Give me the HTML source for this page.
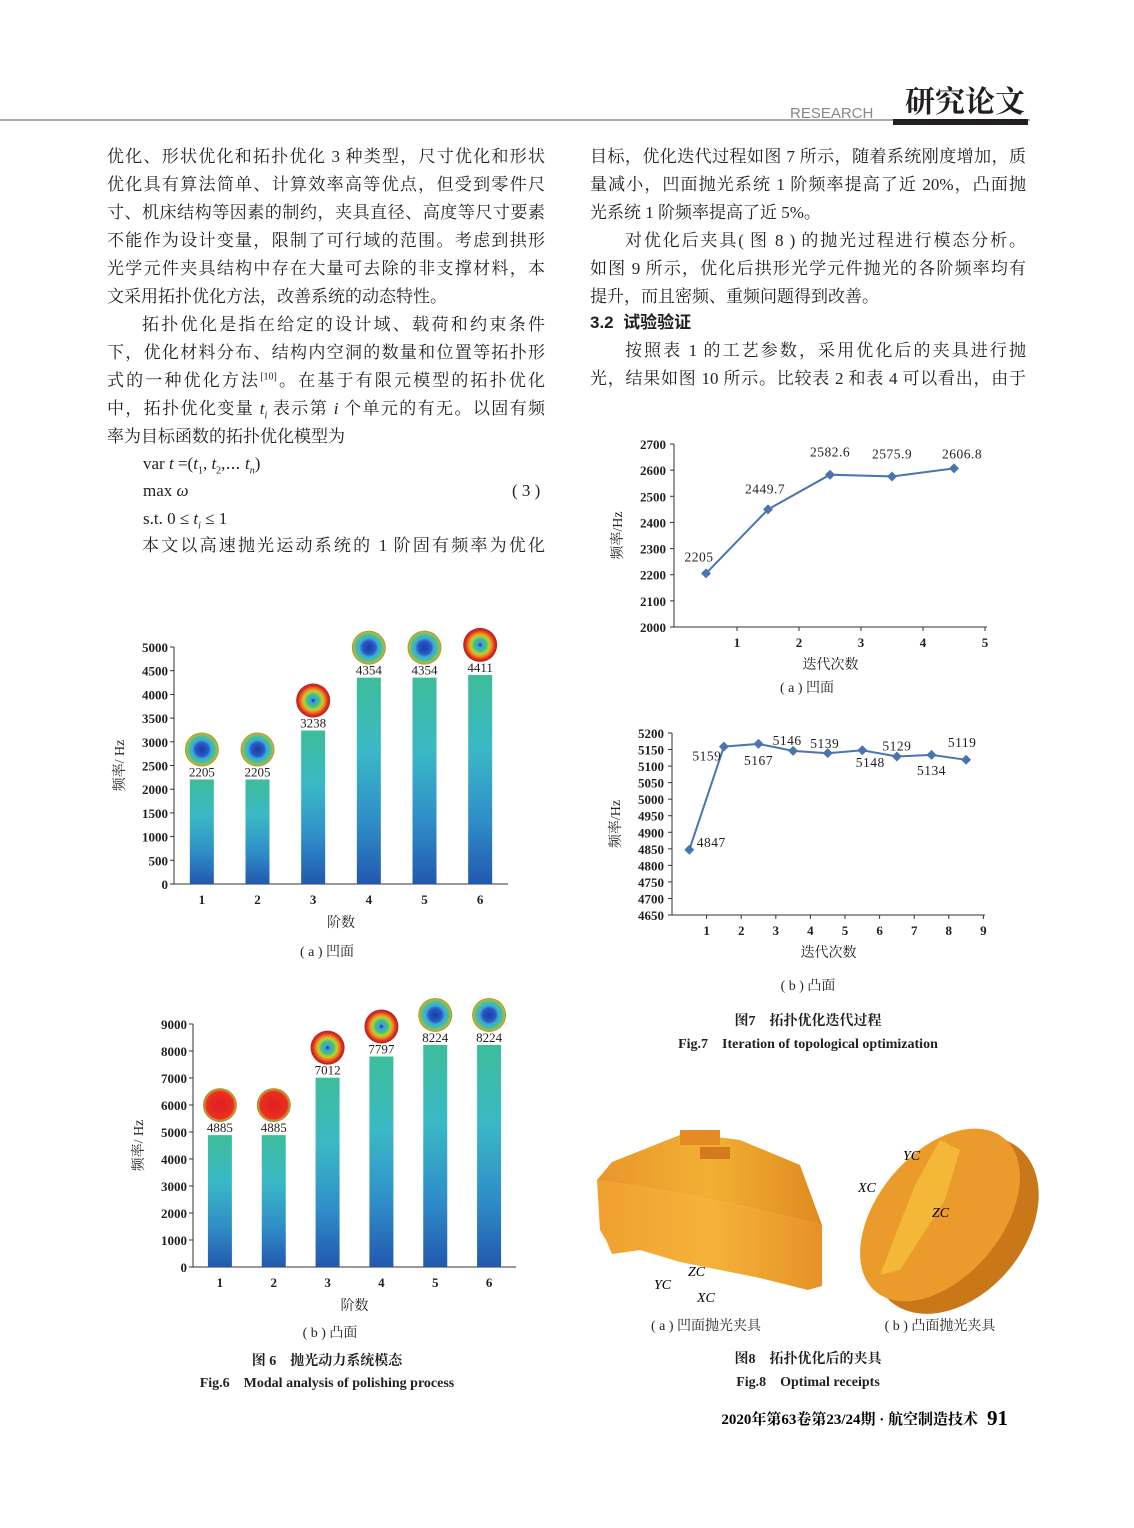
<!DOCTYPE html>
<html><head><meta charset="utf-8">
<style>
body{margin:0;background:#fff;}
#page{position:relative;width:1134px;height:1528px;overflow:hidden;background:#fff;font-family:"Liberation Serif","Noto Serif CJK SC","Noto Sans CJK SC",serif;color:#231f20;}
.ln{position:absolute;font-size:17px;line-height:20px;white-space:nowrap;text-align:justify;text-align-last:justify;}
.l{left:107px;width:438px;}
.r{left:590px;width:436px;}
.in{padding-left:35px;box-sizing:border-box;}
sup,sub{line-height:0;}
svg{position:absolute;left:0;top:0;}
</style></head>
<body>
<div id="page">
<div class="ln l" style="top:147px">优化、形状优化和拓扑优化 3 种类型，尺寸优化和形状</div>
<div class="ln l" style="top:175px">优化具有算法简单、计算效率高等优点，但受到零件尺</div>
<div class="ln l" style="top:203px">寸、机床结构等因素的制约，夹具直径、高度等尺寸要素</div>
<div class="ln l" style="top:231px">不能作为设计变量，限制了可行域的范围。考虑到拱形</div>
<div class="ln l" style="top:259px">光学元件夹具结构中存在大量可去除的非支撑材料，本</div>
<div class="ln l" style="top:287px;width:360px;text-align-last:left">文采用拓扑优化方法，改善系统的动态特性。</div>
<div class="ln l in" style="top:315px">拓扑优化是指在给定的设计域、载荷和约束条件</div>
<div class="ln l" style="top:343px">下，优化材料分布、结构内空洞的数量和位置等拓扑形</div>
<div class="ln l" style="top:371px">式的一种优化方法<sup style="font-size:10px">[10]</sup>。在基于有限元模型的拓扑优化</div>
<div class="ln l" style="top:399px">中，拓扑优化变量 <i>t<sub style="font-size:10px">i</sub></i> 表示第 <i>i</i> 个单元的有无。以固有频</div>
<div class="ln l" style="top:427px;width:260px;text-align-last:left">率为目标函数的拓扑优化模型为</div>
<div class="ln" style="top:454px;left:143px">var <i>t</i> =(<i>t</i><sub style="font-size:10px">1</sub>, <i>t</i><sub style="font-size:10px">2</sub>,⋯ <i>t<sub style="font-size:10px">n</sub></i>)</div>
<div class="ln" style="top:481px;left:143px">max <i>ω</i></div>
<div class="ln" style="top:481px;left:512px">( 3 )</div>
<div class="ln" style="top:509px;left:143px">s.t. 0 ≤ <i>t<sub style="font-size:10px">i</sub></i> ≤ 1</div>
<div class="ln l in" style="top:536px">本文以高速抛光运动系统的 1 阶固有频率为优化</div>

<div class="ln r" style="top:147px">目标，优化迭代过程如图 7 所示，随着系统刚度增加，质</div>
<div class="ln r" style="top:175px">量减小，凹面抛光系统 1 阶频率提高了近 20%，凸面抛</div>
<div class="ln r" style="top:203px;width:250px;text-align-last:left">光系统 1 阶频率提高了近 5%。</div>
<div class="ln r in" style="top:231px">对优化后夹具( 图 8 ) 的抛光过程进行模态分析。</div>
<div class="ln r" style="top:259px">如图 9 所示，优化后拱形光学元件抛光的各阶频率均有</div>
<div class="ln r" style="top:287px;width:300px;text-align-last:left">提升，而且密频、重频问题得到改善。</div>
<div class="ln r" style="top:313px;width:130px;text-align-last:left;font-weight:bold;font-family:'Liberation Sans','Noto Sans CJK SC',sans-serif">3.2 &nbsp;试验验证</div>
<div class="ln r in" style="top:341px">按照表 1 的工艺参数，采用优化后的夹具进行抛</div>
<div class="ln r" style="top:369px">光，结果如图 10 所示。比较表 2 和表 4 可以看出，由于</div>

<svg id="main" width="1134" height="1528" viewBox="0 0 1134 1528">
<defs>
<linearGradient id="barg" x1="0" y1="0" x2="0" y2="1">
<stop offset="0" stop-color="#3dbd9a"/><stop offset="0.35" stop-color="#3ab9c6"/><stop offset="0.7" stop-color="#2f8dc8"/><stop offset="1" stop-color="#2258ae"/></linearGradient>
<radialGradient id="modeBlue"><stop offset="0" stop-color="#1a3aa0"/><stop offset="0.4" stop-color="#2a5cc8"/><stop offset="0.55" stop-color="#3fa8d8"/><stop offset="0.75" stop-color="#40c0a0"/><stop offset="0.9" stop-color="#a0c040"/><stop offset="1" stop-color="#d08030"/></radialGradient>
<radialGradient id="modeRing"><stop offset="0" stop-color="#1030a0"/><stop offset="0.15" stop-color="#40a0e0"/><stop offset="0.35" stop-color="#40c080"/><stop offset="0.55" stop-color="#c0d030"/><stop offset="0.7" stop-color="#f08020"/><stop offset="0.85" stop-color="#e03020"/><stop offset="1" stop-color="#b02020"/></radialGradient>
<radialGradient id="modeRed"><stop offset="0" stop-color="#e02020"/><stop offset="0.8" stop-color="#e83020"/><stop offset="0.9" stop-color="#f08020"/><stop offset="1" stop-color="#60b060"/></radialGradient>
<linearGradient id="orange" x1="0" y1="0" x2="1" y2="0"><stop offset="0" stop-color="#e9962a"/><stop offset="0.5" stop-color="#f2b033"/><stop offset="1" stop-color="#e08a20"/></linearGradient>
<linearGradient id="band" x1="0" y1="0" x2="1" y2="0"><stop offset="0" stop-color="#f0a030"/><stop offset="0.5" stop-color="#f5b23a"/><stop offset="1" stop-color="#e69226"/></linearGradient>
</defs>
<g>
<line x1="0" y1="120" x2="1030" y2="120" stroke="#555" stroke-width="1"/>
<rect x="893" y="119" width="135" height="6" fill="#231f20"/>
<text x="790" y="118" font-family="Liberation Sans,sans-serif" font-size="15" fill="#888">RESEARCH</text>
<text x="905" y="112" font-family="Liberation Serif,'Noto Serif CJK SC',serif" font-size="30" font-weight="bold" fill="#231f20">研究论文</text>
</g>
<g id="g6a"></g>
<g id="g6b"></g>
<g id="g7a"></g>
<g id="g7b"></g>
<g>
<path d="M597,1180 Q700,1195 822,1225 L822,1286 L808,1290 L760,1278 L680,1262 L640,1250 L612,1254 L606,1240 L600,1230 Z" fill="url(#band)"/>
<path d="M597,1180 L612,1162 L685,1133 L740,1140 L800,1165 L822,1225 Q700,1195 597,1180 Z" fill="url(#orange)"/>
<rect x="680" y="1130" width="40" height="15" fill="#e48a22"/><rect x="700" y="1147" width="30" height="12" fill="#d47a1a"/>
<text x="654" y="1289" font-size="14" font-style="italic" font-family="Liberation Serif,serif">YC</text>
<text x="688" y="1276" font-size="14" font-style="italic" font-family="Liberation Serif,serif">ZC</text>
<text x="697" y="1302" font-size="14" font-style="italic" font-family="Liberation Serif,serif">XC</text>
</g>
<g>
<ellipse cx="955" cy="1225" rx="70" ry="100" transform="rotate(40 955 1225)" fill="#c87818"/>
<ellipse cx="940" cy="1215" rx="62" ry="100" transform="rotate(40 940 1215)" fill="#eb9a2c"/>
<path d="M915,1185 L940,1140 L960,1150 L945,1200 L900,1270 L880,1275 Z" fill="#f4b838"/>
<text x="903" y="1160" font-size="14" font-style="italic" font-family="Liberation Serif,serif">YC</text>
<text x="858" y="1192" font-size="14" font-style="italic" font-family="Liberation Serif,serif">XC</text>
<text x="932" y="1217" font-size="14" font-style="italic" font-family="Liberation Serif,serif">ZC</text>
</g>
<g font-family="Liberation Serif,'Noto Serif CJK SC',serif" fill="#231f20" text-anchor="middle">
<text x="327" y="956" font-size="14">( a ) 凹面</text>
<text x="330" y="1337" font-size="14">( b ) 凸面</text>
<text x="327" y="1365" font-size="14" font-weight="bold">图 6　抛光动力系统模态</text>
<text x="327" y="1387" font-size="14" font-weight="bold">Fig.6　Modal analysis of polishing process</text>
<text x="807" y="692" font-size="14">( a ) 凹面</text>
<text x="808" y="990" font-size="14">( b ) 凸面</text>
<text x="808" y="1025" font-size="14" font-weight="bold">图7　拓扑优化迭代过程</text>
<text x="808" y="1048" font-size="14" font-weight="bold">Fig.7　Iteration of topological optimization</text>
<text x="706" y="1330" font-size="14">( a ) 凹面抛光夹具</text>
<text x="940" y="1330" font-size="14">( b ) 凸面抛光夹具</text>
<text x="808" y="1363" font-size="14" font-weight="bold">图8　拓扑优化后的夹具</text>
<text x="808" y="1386" font-size="14" font-weight="bold">Fig.8　Optimal receipts</text>
</g>
<g font-family="Liberation Serif,'Noto Serif CJK SC',serif" font-weight="bold">
<text x="978" y="1424" font-size="15" text-anchor="end">2020年第63卷第23/24期 · 航空制造技术</text>
<text x="987" y="1425" font-size="21">91</text>
</g>
</svg>
</div>
<script>
const NS="http://www.w3.org/2000/svg";
// Fig6a data
const cat6a=["1","2","3","4","5","6"];
const val6a=[2205,2205,3238,4354,4354,4411];
const ticks6a=[0,500,1000,1500,2000,2500,3000,3500,4000,4500,5000];
const mode6a=["modeBlue","modeBlue","modeRing","modeBlue","modeBlue","modeRing"];
// Fig6b data
const cat6b=["1","2","3","4","5","6"];
const val6b=[4885,4885,7012,7797,8224,8224];
const ticks6b=[0,1000,2000,3000,4000,5000,6000,7000,8000,9000];
const mode6b=["modeRed","modeRed","modeRing","modeRing","modeBlue","modeBlue"];
// Fig7a data
const iter7a=[0.5,1.5,2.5,3.5,4.5];
const val7a=[2205,2449.7,2582.6,2575.9,2606.8];
const lab7a=["2205","2449.7","2582.6","2575.9","2606.8"];
const yt7a=[2000,2100,2200,2300,2400,2500,2600,2700];
const xt7a=[1,2,3,4,5];
// Fig7b data
const iter7b=[0.5,1.5,2.5,3.5,4.5,5.5,6.5,7.5,8.5];
const val7b=[4847,5159,5167,5146,5139,5148,5129,5134,5119];
const yt7b=[4650,4700,4750,4800,4850,4900,4950,5000,5050,5100,5150,5200];
const xt7b=[1,2,3,4,5,6,7,8,9];

function mk(p,tag,at){const e=document.createElementNS(NS,tag);for(const k in at)e.setAttribute(k,at[k]);p.appendChild(e);return e;}
function txt(p,x,y,s,fs,anc,extra){const t=mk(p,"text",Object.assign({x:x,y:y,"font-size":fs,"text-anchor":anc||"middle","font-family":"Liberation Serif,'Noto Serif CJK SC',serif",fill:"#231f20"},extra||{}));t.textContent=s;return t;}

function barChart(g,cats,vals,ticks,modes,o){
  const ys=v=>o.y0-(v-ticks[0])/(ticks[ticks.length-1]-ticks[0])*(o.y0-o.y1);
  const xs=i=>o.x0+(i+0.5)*(o.x1-o.x0)/cats.length;
  const ax=mk(g,"path",{d:`M${o.x0},${o.y1} V${o.y0} H${o.x1}`,stroke:"#333",fill:"none","stroke-width":1});
  
  ticks.forEach(t=>{const y=ys(t);mk(g,"line",{x1:o.x0-4,x2:o.x0,y1:y,y2:y,stroke:"#333"});
    const l=txt(g,o.x0-6,y+5,String(t),13,"end",{"font-weight":"bold"});
    });
  cats.forEach((c,i)=>{const x=xs(i),y=ys(vals[i]);
    const b=mk(g,"rect",{x:x-12,y:y,width:24,height:o.y0-y,fill:"url(#barg)"});
    
    const v=txt(g,x,y-3,String(vals[i]),13,"middle");
    
    const cx=txt(g,x,o.y0+20,c,13,"middle",{"font-weight":"bold"});
    
    const m=mk(g,"circle",{cx:x,cy:y-30,r:17,fill:"url(#"+modes[i]+")"});
    });
  const xt=txt(g,(o.x0+o.x1)/2,o.y0+43,"阶数",14,"middle");
  
  const yt=txt(g,0,0,"频率/ Hz",14,"middle",{transform:`translate(${o.x0-50},${(o.y0+o.y1)/2}) rotate(-90)`});
  
}
barChart(document.getElementById("g6a"),cat6a,val6a,ticks6a,mode6a,{x0:174,x1:508,y0:884,y1:647});
barChart(document.getElementById("g6b"),cat6b,val6b,ticks6b,mode6b,{x0:193,x1:516,y0:1267,y1:1024});

function lineChart(g,xsA,vals,labs,yt,xt,o){
  const ys=v=>o.y0-(v-yt[0])/(yt[yt.length-1]-yt[0])*(o.y0-o.y1);
  const xs=v=>o.xo+v*o.step;
  const ax=mk(g,"path",{d:`M${o.xa},${o.y1} V${o.y0} H${o.xe}`,stroke:"#333",fill:"none"});
  
  yt.forEach(t=>{const y=ys(t);mk(g,"line",{x1:o.xa-4,x2:o.xa,y1:y,y2:y,stroke:"#333"});
    const l=txt(g,o.xa-8,y+5,String(t),13,"end",{"font-weight":"bold"});
    });
  xt.forEach(t=>{const x=xs(t);mk(g,"line",{x1:x,x2:x,y1:o.y0,y2:o.y0+4,stroke:"#333"});
    const l=txt(g,x,o.y0+20,String(t),13,"middle",{"font-weight":"bold"});
    });
  const pts=xsA.map((v,i)=>xs(v)+","+ys(vals[i])).join(" ");
  const pl=mk(g,"polyline",{points:pts,fill:"none",stroke:"#4a74b0","stroke-width":2});
  
  xsA.forEach((v,i)=>{const x=xs(v),y=ys(vals[i]);
    const d=mk(g,"path",{d:`M${x},${y-5} L${x+5},${y} L${x},${y+5} L${x-5},${y} Z`,fill:"#4a74b0"});
    
    const off=o.lab[i];
    const l=txt(g,x+off[0],y+off[1],labs[i],13.5,"middle",{"letter-spacing":"0.5"});
    });
  const xtit=txt(g,(o.xa+o.xe)/2,o.y0+42,"迭代次数",14,"middle");
  
  const ytit=txt(g,0,0,"频率/Hz",14,"middle",{transform:`translate(${o.xa-52},${(o.y0+o.y1)/2}) rotate(-90)`});
  
}
lineChart(document.getElementById("g7a"),iter7a,val7a,lab7a,yt7a,xt7a,
 {xa:674,xe:987,xo:675,step:62,y0:627,y1:444,lab:[[-7,-12],[-3,-16],[0,-18],[0,-18],[8,-10]]});
lineChart(document.getElementById("g7b"),iter7b,val7b,val7b.map(String),yt7b,xt7b,
 {xa:672,xe:985,xo:672,step:34.6,y0:915,y1:733,lab:[[22,-3],[-17,14],[0,21],[-6,-6],[-3,-5],[8,17],[0,-6],[0,20],[-4,-13]]});
</script>
</body></html>
